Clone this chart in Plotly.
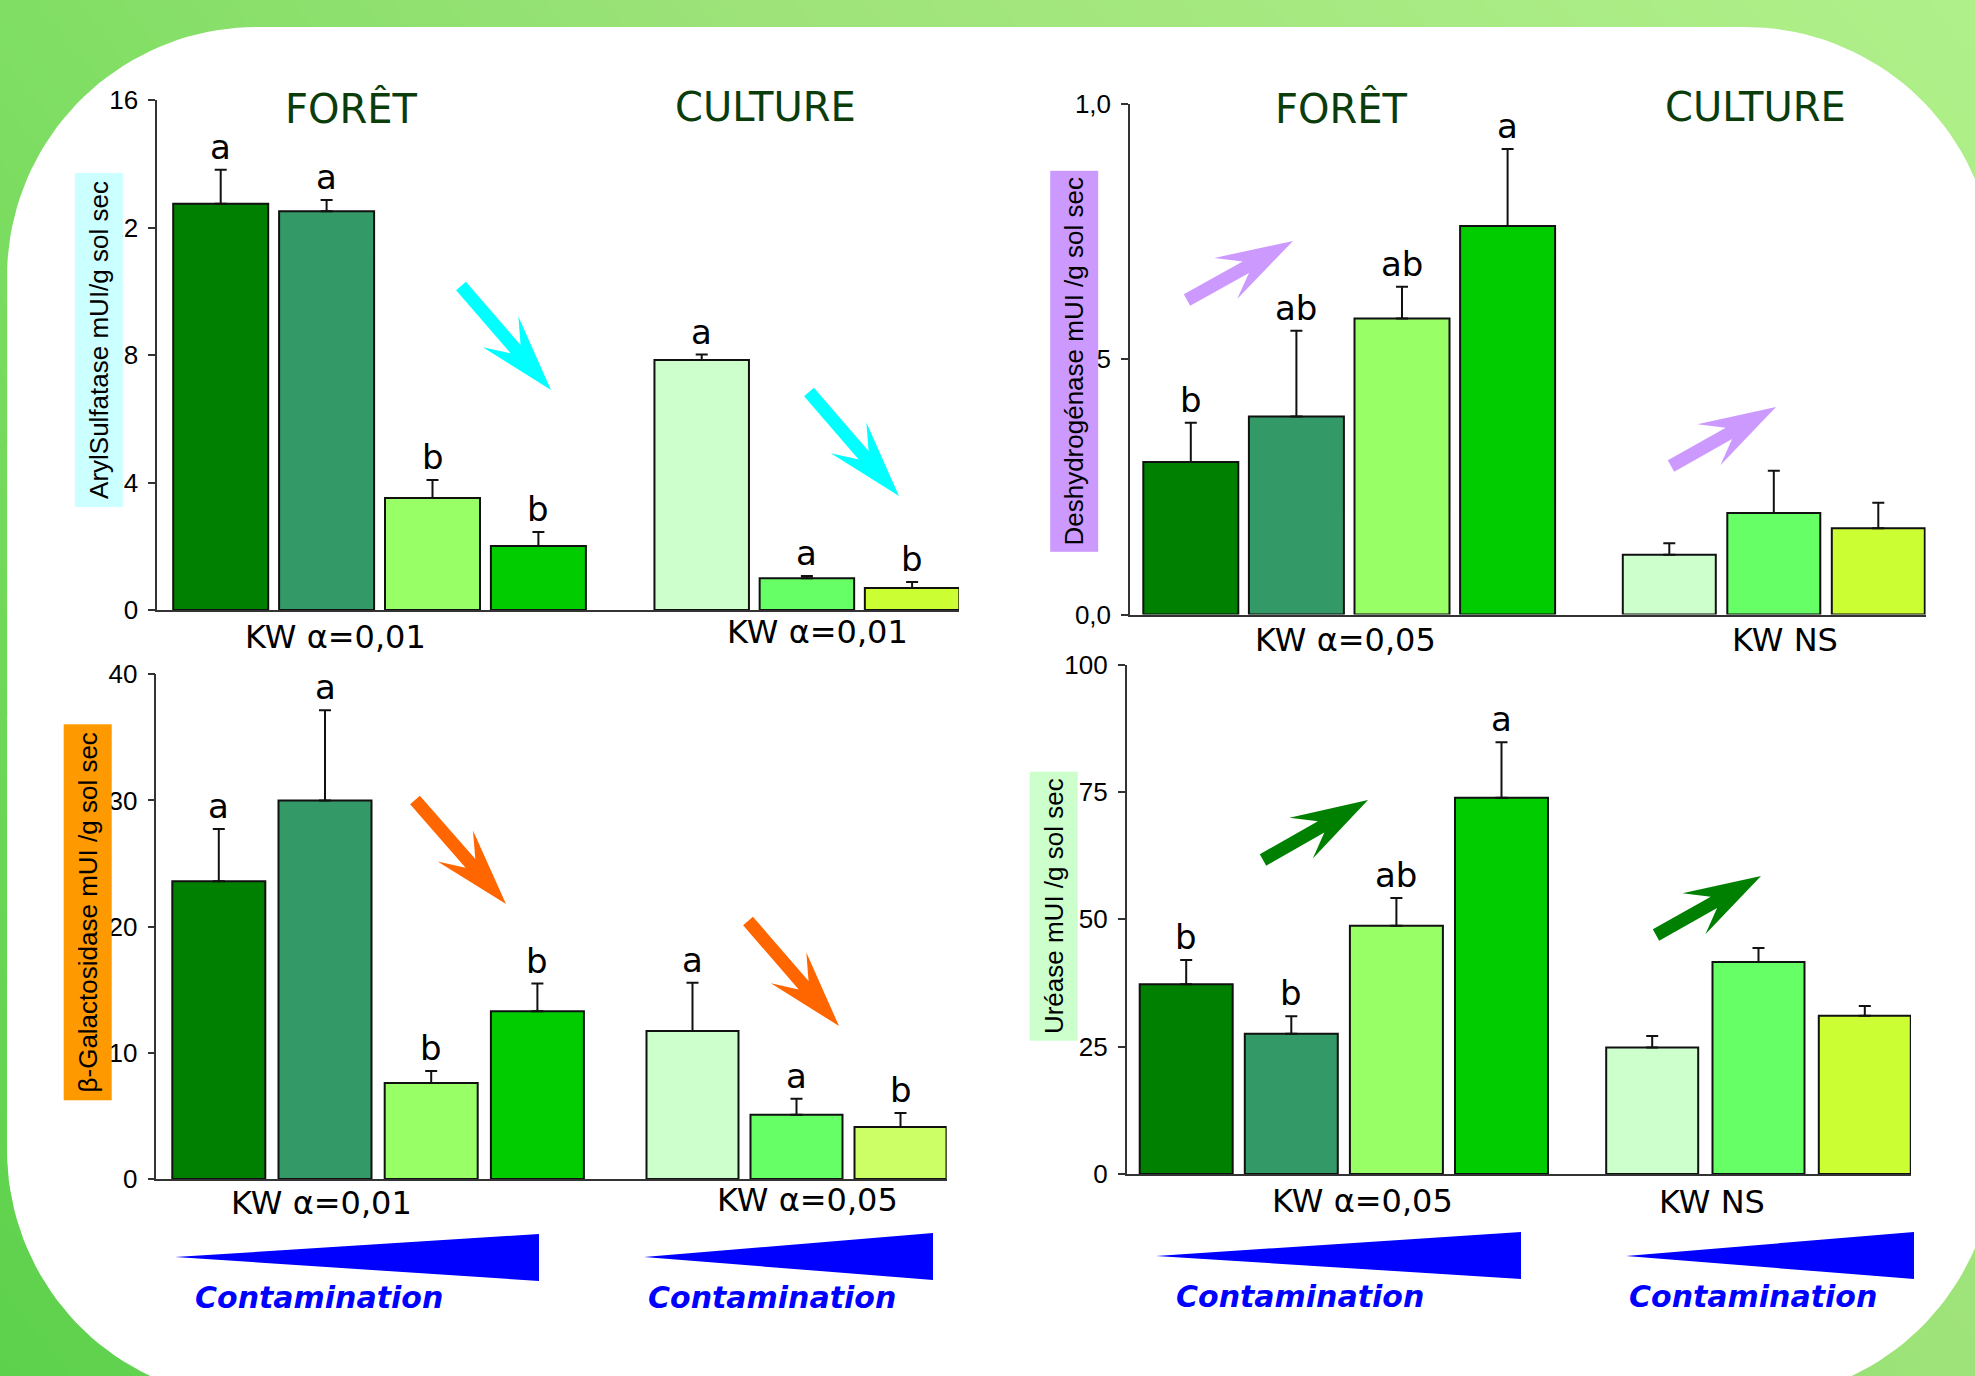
import numpy as np
import plotly.graph_objects as go

FIG_W, FIG_H = 1975, 1376

# ---------------- data ----------------
# Mean activity (+ standard error) for the four forest soils and the three
# cultivated soils, ordered by increasing contamination.
aryl_foret = [12.75, 12.52, 3.52, 2.01]
aryl_foret_se = [1.07, 0.35, 0.56, 0.44]
aryl_culture = [7.85, 1.00, 0.69]
aryl_culture_se = [0.17, 0.07, 0.19]
aryl_foret_groups = ["a", "a", "b", "b"]
aryl_culture_groups = ["a", "a", "b"]
aryl_ticks = [0, 4, 8, 12, 16]
aryl_ticktext = ["0", "4", "8", "12", "16"]

dhg_foret = [0.299, 0.388, 0.580, 0.761]
dhg_foret_se = [0.077, 0.168, 0.062, 0.151]
dhg_culture = [0.117, 0.199, 0.169]
dhg_culture_se = [0.023, 0.083, 0.050]
dhg_foret_groups = ["b", "ab", "ab", "a"]
dhg_culture_groups = ["", "", ""]
dhg_ticks = [0, 0.5, 1.0]
dhg_ticktext = ["0,0", "0,5", "1,0"]

gal_foret = [23.6, 30.0, 7.6, 13.3]
gal_foret_se = [4.14, 7.14, 0.95, 2.19]
gal_culture = [11.73, 5.09, 4.13]
gal_culture_se = [3.82, 1.27, 1.10]
gal_foret_groups = ["a", "a", "b", "b"]
gal_culture_groups = ["a", "a", "b"]
gal_ticks = [0, 10, 20, 30, 40]
gal_ticktext = ["0", "10", "20", "30", "40"]

ure_foret = [37.25, 27.52, 48.73, 73.88]
ure_foret_se = [4.73, 3.42, 5.43, 10.87]
ure_culture = [24.8, 41.63, 31.03]
ure_culture_se = [2.28, 2.72, 1.93]
ure_foret_groups = ["b", "b", "ab", "a"]
ure_culture_groups = ["", "", ""]
ure_ticks = [0, 25, 50, 75, 100]
ure_ticktext = ["0", "25", "50", "75", "100"]

FORET_COLORS = ["#008000", "#339966", "#99ff66", "#00cc00"]
CULTURE_COLORS = ["#ccffcc", "#66ff66", "#ccff33"]
CULTURE_COLORS_GAL = ["#ccffcc", "#66ff66", "#ccff66"]

COMIC = "Comic Sans MS, DejaVu Sans, sans-serif"
ARIAL = "Arial, Liberation Sans, sans-serif"


def px(x, y):
    """Page pixel -> paper fraction."""
    return x / FIG_W, 1 - y / FIG_H


fig = go.Figure()

# ---------------- backdrop: green gradient + white rounded card ----------------
fig.add_trace(go.Heatmap(
    z=[[0.0, 0.6], [0.35, 1.0]], x=[0, 1], y=[0, 1], zmin=0, zmax=1,
    zsmooth="best", showscale=False, hoverinfo="skip",
    colorscale=[[0, "#5dd14c"], [0.35, "#80de64"], [0.6, "#9ee37a"], [1, "#b0f08a"]],
    xaxis="x", yaxis="y"))


def rounded_card(x0, y0, x1, y1, r, n=40):
    xs, ys = [], []
    for cx, cy, a0 in ((x1 - r, y0 + r, -90), (x1 - r, y1 - r, 0),
                       (x0 + r, y1 - r, 90), (x0 + r, y0 + r, 180)):
        t = np.radians(np.linspace(a0, a0 + 90, n))
        for xx, yy in zip(cx + r * np.cos(t), cy + r * np.sin(t)):
            fx, fy = px(xx, yy)
            xs.append(float(fx))
            ys.append(float(fy))
    xs.append(xs[0])
    ys.append(ys[0])
    return xs, ys


card_x, card_y = rounded_card(7, 27, 1995, 1400, 250)
fig.add_trace(go.Scatter(x=card_x, y=card_y, mode="lines", fill="toself",
                         fillcolor="white", line=dict(width=0, color="white"),
                         hoverinfo="skip", showlegend=False, xaxis="x", yaxis="y"))

# ---------------- the four bar panels ----------------
panels = [
    dict(foret=aryl_foret, foret_se=aryl_foret_se, culture=aryl_culture, culture_se=aryl_culture_se,
         foret_groups=aryl_foret_groups, culture_groups=aryl_culture_groups,
         ticks=aryl_ticks, ticktext=aryl_ticktext, ymax=16,
         x_px=(157.1, 959.0), y_px=(610.1, 100.3),
         foret_slots=(63.6, 105.9, 95.0), culture_slots=(544.6, 105.2, 94.5),
         culture_colors=CULTURE_COLORS),
    dict(foret=dhg_foret, foret_se=dhg_foret_se, culture=dhg_culture, culture_se=dhg_culture_se,
         foret_groups=dhg_foret_groups, culture_groups=dhg_culture_groups,
         ticks=dhg_ticks, ticktext=dhg_ticktext, ymax=1.0,
         x_px=(1130.0, 1925.7), y_px=(614.6, 104.1),
         foret_slots=(60.8, 105.6, 95.0), culture_slots=(539.3, 104.5, 93.0),
         culture_colors=CULTURE_COLORS),
    dict(foret=gal_foret, foret_se=gal_foret_se, culture=gal_culture, culture_se=gal_culture_se,
         foret_groups=gal_foret_groups, culture_groups=gal_culture_groups,
         ticks=gal_ticks, ticktext=gal_ticktext, ymax=40,
         x_px=(156.4, 946.7), y_px=(1179.0, 674.2),
         foret_slots=(62.4, 106.2, 93.0), culture_slots=(536.1, 104.0, 92.0),
         culture_colors=CULTURE_COLORS_GAL),
    dict(foret=ure_foret, foret_se=ure_foret_se, culture=ure_culture, culture_se=ure_culture_se,
         foret_groups=ure_foret_groups, culture_groups=ure_culture_groups,
         ticks=ure_ticks, ticktext=ure_ticktext, ymax=100,
         x_px=(1126.7, 1911.0), y_px=(1173.9, 664.6),
         foret_slots=(59.5, 105.1, 93.0), culture_slots=(525.5, 106.3, 92.0),
         culture_colors=CULTURE_COLORS),
]

layout_axes = {
    "xaxis": dict(domain=[0, 1], range=[0, 1], visible=False, fixedrange=True),
    "yaxis": dict(domain=[0, 1], range=[0, 1], visible=False, fixedrange=True),
}
annotations = []

for i, p in enumerate(panels):
    k = i + 2
    xa, ya = f"x{k}", f"y{k}"
    x0px, x1px = p["x_px"]
    ybase, ytop = p["y_px"]
    for vals, ses, groups, slots, colors in (
            (p["foret"], p["foret_se"], p["foret_groups"], p["foret_slots"], FORET_COLORS),
            (p["culture"], p["culture_se"], p["culture_groups"], p["culture_slots"], p["culture_colors"])):
        start, pitch, bw = slots
        xs = [start + j * pitch for j in range(len(vals))]
        fig.add_trace(go.Bar(
            x=xs, y=vals, width=bw,
            marker=dict(color=colors, line=dict(color="#111111", width=2)),
            error_y=dict(type="data", symmetric=False, array=ses, arrayminus=[0] * len(vals),
                         color="#111111", thickness=2, width=6),
            xaxis=xa, yaxis=ya, showlegend=False, hoverinfo="y"))
        for xv, v, s, g in zip(xs, vals, ses, groups):
            if g:
                annotations.append(dict(
                    text=g, x=xv, y=v + s, xref=xa, yref=ya, showarrow=False,
                    xanchor="center", yanchor="bottom", yshift=1,
                    font=dict(family=COMIC, size=34, color="black")))
    layout_axes[f"xaxis{k}"] = dict(
        domain=[x0px / FIG_W, x1px / FIG_W], range=[0, x1px - x0px], anchor=ya,
        showline=True, linecolor="#333333", linewidth=1.5, showticklabels=False,
        ticks="", showgrid=False, zeroline=False, fixedrange=True)
    layout_axes[f"yaxis{k}"] = dict(
        domain=[1 - ybase / FIG_H, 1 - ytop / FIG_H], range=[0, p["ymax"]], anchor=xa,
        showline=True, linecolor="#333333", linewidth=1.5,
        ticks="outside", ticklen=7, tickwidth=1.5, tickcolor="#333333",
        tickvals=p["ticks"], ticktext=p["ticktext"], ticklabelstandoff=5,
        tickfont=dict(family=ARIAL, size=26, color="black"),
        showgrid=False, zeroline=False, fixedrange=True)


def page_text(text, x, y, size, color="black", family=COMIC, **kw):
    fx, fy = px(x, y)
    d = dict(text=text, x=fx, y=fy, xref="paper", yref="paper", showarrow=False,
             xanchor="center", yanchor="middle",
             font=dict(size=size, color=color, family=family))
    d.update(kw)
    return d


# group titles
for label, x, y in (("FORÊT", 351, 108), ("CULTURE", 765, 107),
                    ("FORÊT", 1341, 108), ("CULTURE", 1755, 107)):
    annotations.append(page_text(label, x, y, 40, color="#0b3d0b"))

# Kruskal-Wallis results
for label, x, y in (("KW α=0,01", 335, 637), ("KW α=0,01", 817, 632),
                    ("KW α=0,05", 1345, 640), ("KW NS", 1785, 640),
                    ("KW α=0,01", 321, 1203), ("KW α=0,05", 807, 1200),
                    ("KW α=0,05", 1362, 1201), ("KW NS", 1712, 1202)):
    annotations.append(page_text(label, x, y, 32))

# contamination gradient captions
for x, y in ((319, 1297), (772, 1297), (1300, 1296), (1753, 1296)):
    annotations.append(page_text("<b><i>Contamination</i></b>", x, y, 30, color="#0000ff"))

# y-axis titles on coloured boxes
for label, x, y, w, h, bg in (
        ("ArylSulfatase mUI/g sol sec", 98.4, 340.1, 46.8, 333, "#ccffff"),
        ("Deshydrogénase mUI /g sol sec", 1074.0, 361.3, 46.6, 380, "#cc99ff"),
        ("β-Galactosidase mUI /g sol sec", 87.5, 912.3, 47.2, 375, "#ff9900"),
        ("Uréase mUI /g sol sec", 1053.7, 906.5, 47.3, 268, "#ccffcc")):
    annotations.append(page_text(label, x, y, 26, family=ARIAL, textangle=-90,
                                 width=h, height=w, bgcolor=bg, borderpad=0))


# ---------------- trend arrows and contamination wedges ----------------
def to_path(points):
    return "M " + " L ".join("{:.5f},{:.5f}".format(*px(x, y)) for x, y in points) + " Z"


def arrow_shape(tail, tip, color, shaft=13, head_back=77, neck=54, half_head=23.5):
    tx, ty = tail
    hx, hy = tip
    length = np.hypot(hx - tx, hy - ty)
    ux, uy = (hx - tx) / length, (hy - ty) / length
    nx, ny = -uy, ux

    def pt(back, side):
        return hx - ux * back + nx * side, hy - uy * back + ny * side

    pts = [pt(length, shaft / 2), pt(neck, shaft / 2), pt(head_back, half_head), pt(0, 0),
           pt(head_back, -half_head), pt(neck, -shaft / 2), pt(length, -shaft / 2)]
    return dict(type="path", path=to_path(pts), xref="paper", yref="paper",
                fillcolor=color, line=dict(width=0), layer="above")


def wedge_shape(tip, right, top, bottom, color="#0000ff"):
    pts = [tip, (right, top), (right, bottom)]
    return dict(type="path", path=to_path(pts), xref="paper", yref="paper",
                fillcolor=color, line=dict(width=0), layer="above")


shapes = [
    arrow_shape((461, 286), (551, 390), "#00ffff"),
    arrow_shape((809, 392), (899, 496), "#00ffff"),
    arrow_shape((1187, 300), (1293, 241), "#cc99ff"),
    arrow_shape((1671, 466), (1776, 407), "#cc99ff"),
    arrow_shape((415, 800), (506, 904), "#ff6600"),
    arrow_shape((748, 921), (839, 1026), "#ff6600"),
    arrow_shape((1263, 860), (1368, 800), "#008000"),
    arrow_shape((1656, 935), (1761, 876), "#008000"),
    wedge_shape((175, 1257), 539, 1234, 1281),
    wedge_shape((644, 1257), 933, 1233, 1280),
    wedge_shape((1156, 1256), 1521, 1232, 1279),
    wedge_shape((1626, 1256), 1914, 1232, 1279),
]

fig.update_layout(
    width=FIG_W, height=FIG_H, autosize=False,
    margin=dict(l=0, r=0, t=0, b=0, pad=0, autoexpand=False),
    paper_bgcolor="#8ee06e", plot_bgcolor="rgba(0,0,0,0)",
    barmode="overlay", showlegend=False,
    annotations=annotations, shapes=shapes,
    **layout_axes)

# keep the figure flush with the page corner
fig.write_html(
    "out.html", config={"displayModeBar": False},
    post_script=("document.documentElement.style.margin='0';"
                 "document.body.style.margin='0';document.body.style.padding='0';"
                 "document.documentElement.style.overflow='hidden';"))
